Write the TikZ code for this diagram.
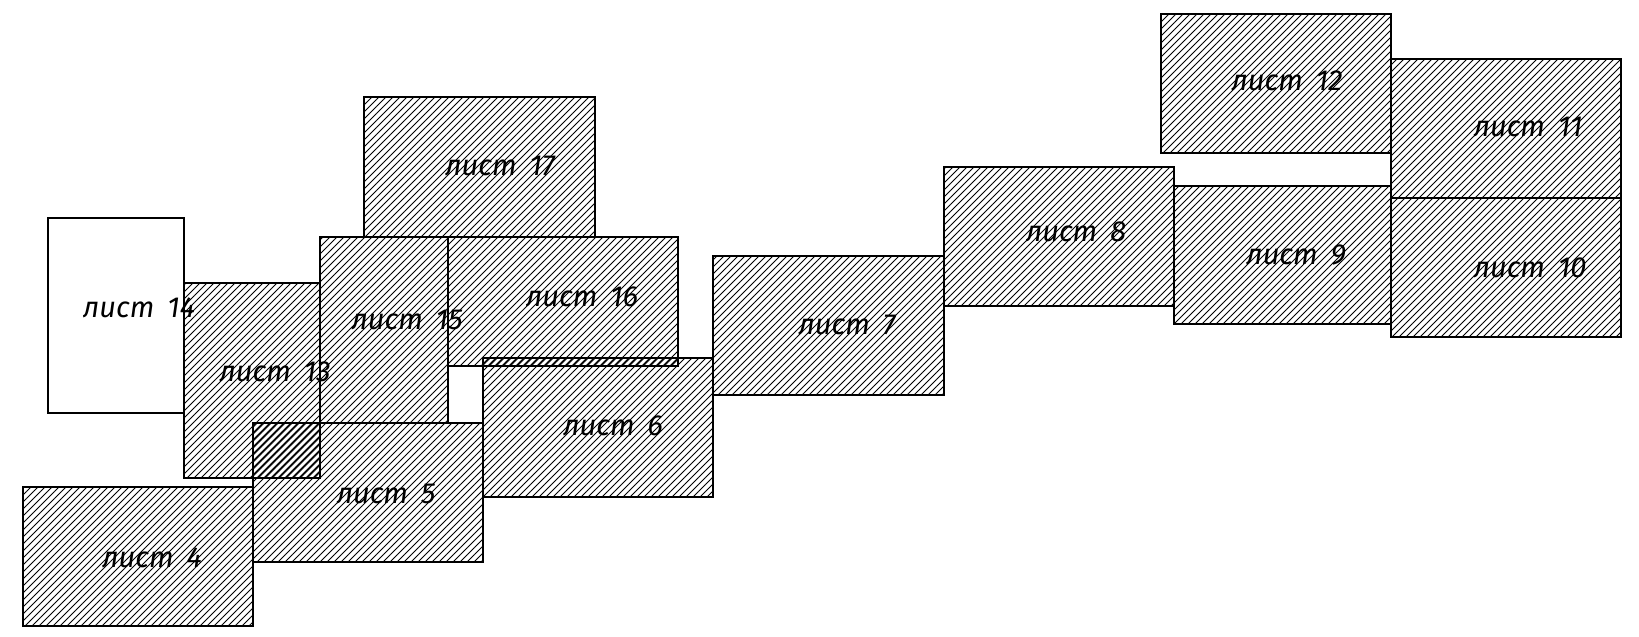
\documentclass[tikz,border=0pt]{standalone}
\usepackage{fontspec}
\setmainfont{Fira Sans}
\usetikzlibrary{patterns.meta}
\tikzset{
  sheet/.style={draw=black, line width=0.7pt, pattern={Lines[angle=45, distance=2.4749pt, line width=0.45pt]}},
  plainsheet/.style={draw=black, line width=0.7pt},
  extrahatch/.style={pattern={Lines[angle=45, distance=2.4749pt, line width=0.45pt, xshift=0.6pt]}},
  lbl/.style={font=\fontsize{14.5}{16}\selectfont\itshape, inner sep=0pt}
}
\newcommand{\lst}[1]{лист\hspace{0.45em}#1}
\begin{document}
\begin{tikzpicture}[x=0.5pt, y=-0.5pt]
\useasboundingbox (0,0) rectangle (1639,637);
% sheets
\draw[plainsheet] (48,218) rectangle (184,413);
\draw[sheet] (184,283) rectangle (320,478);
\draw[sheet] (320,237) rectangle (448,423);
\draw[sheet] (364,97) rectangle (595,237);
\draw[sheet] (448,237) rectangle (678,366);
\draw[sheet] (253,423) rectangle (483,562);
\draw[sheet] (23,487) rectangle (253,626);
\draw[sheet] (483,358) rectangle (713,497);
\draw[sheet] (713,256) rectangle (944,395);
\draw[sheet] (944,167) rectangle (1174,306);
\draw[sheet] (1174,186) rectangle (1391,324);
\draw[sheet] (1161,14) rectangle (1391,153);
\draw[sheet] (1391,59) rectangle (1621,198);
\draw[sheet] (1391,198) rectangle (1621,337);
% overlaps (double hatching)
\fill[extrahatch] (253,423) rectangle (320,478);
\fill[extrahatch] (483,358) rectangle (678,366);
\draw[line width=0.7pt] (253,423) rectangle (320,478);
\draw[line width=0.7pt] (448,366) -- (678,366);
% labels
\node[lbl] (l14) at (139,308) {\lst{14}};
\node[lbl] (l13) at (275,372) {\lst{13}};
\node[lbl] (l15) at (407,320) {\lst{15}};
\node[lbl] (l5) at (386,494) {\lst{5}};
\node[lbl] (l4) at (152,558) {\lst{4}};
\node[lbl] (l17) at (500,166) {\lst{17}};
\node[lbl] (l16) at (582,297) {\lst{16}};
\node[lbl] (l6) at (613,426) {\lst{6}};
\node[lbl] (l7) at (847,325) {\lst{7}};
\node[lbl] (l8) at (1076,232) {\lst{8}};
\node[lbl] (l12) at (1287,81) {\lst{12}};
\node[lbl] (l11) at (1528,127) {\lst{11}};
\node[lbl] (l9) at (1296,255) {\lst{9}};
\node[lbl] (l10) at (1530,268) {\lst{10}};
\end{tikzpicture}
\end{document}
